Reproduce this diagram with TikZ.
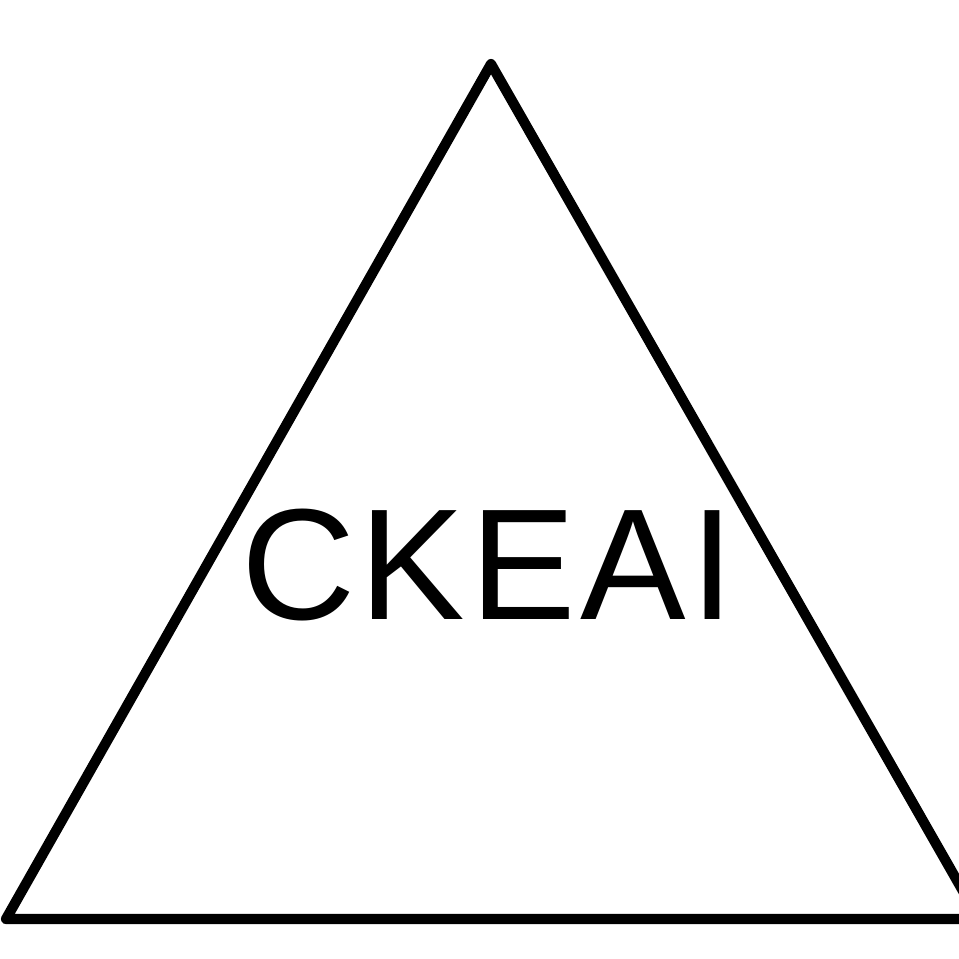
\documentclass[tikz,border=0pt]{standalone}
\usepackage{fontspec}
\setmainfont{Liberation Sans}
\begin{document}
\begin{tikzpicture}[x=0.01cm,y=-0.01cm,
  edge/.style={draw=black,line width=2.9pt,line join=round,line cap=round},
  label/.style={font=\fontsize{45}{45}\selectfont\addfontfeature{LetterSpace=3},inner sep=0pt,anchor=center}]
\useasboundingbox (0,0) rectangle (959,959);
\clip (0,0) rectangle (959,959);
\coordinate (apex) at (491,64);
\coordinate (bl) at (6,919);
\coordinate (br) at (979,919);
\draw[edge] (apex) -- (bl) -- (br) -- cycle;
\node[label] (t) at (488,565) {CKEAI};
\end{tikzpicture}
\end{document}
